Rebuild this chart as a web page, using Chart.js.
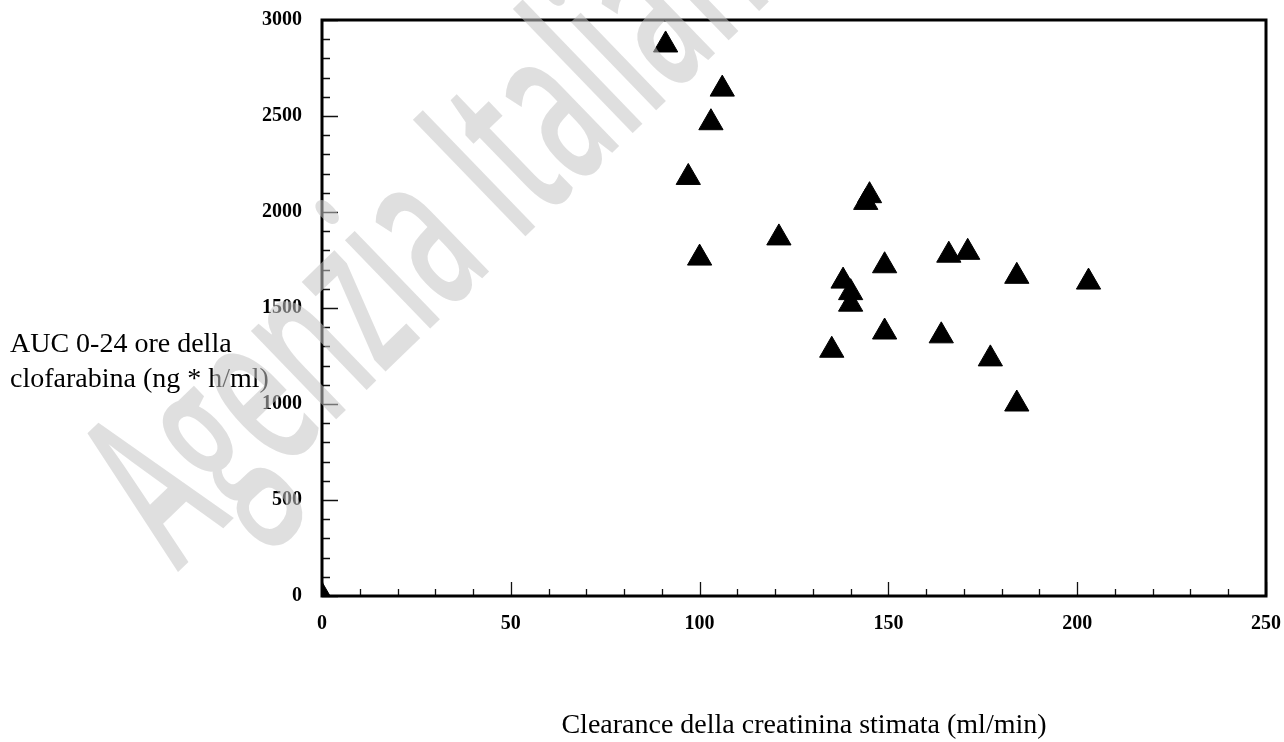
<!DOCTYPE html>
<html>
<head>
<meta charset="utf-8">
<script src="https://cdn.jsdelivr.net/npm/chart.js@4/dist/chart.umd.min.js"></script>
<style>
  html, body { margin: 0; padding: 0; background: #fff; }
</style>
</head>
<body>
<canvas id="auc" width="1284" height="742"></canvas>
<script>
// creatinine clearance (ml/min) vs AUC 0-24h (ng*h/ml)
var clearance = [0, 91, 106, 103, 97, 100, 145, 144, 121, 149, 166, 171, 184, 203, 138, 140, 140, 149, 164, 135, 177, 184];
var auc = [0, 2870, 2640, 2465, 2180, 1760, 2085, 2050, 1865, 1720, 1775, 1790, 1665, 1635, 1640, 1580, 1520, 1375, 1355, 1280, 1235, 1000];

var xTitle = 'Clearance della creatinina stimata (ml/min)';
var yTitle = ['AUC 0-24 ore della', 'clofarabina (ng * h/ml)'];
var watermark = 'Agenzia Italiana del Farmaco';

var points = clearance.map(function (c, i) { return { x: c, y: auc[i] }; });

var tickFont = { family: '"Liberation Serif", "Times New Roman", serif', size: 20, weight: 'bold' };

// inward ticks, frame, titles and the grey stamp across the page
var decor = {
  id: 'decor',
  beforeDatasetsDraw: function (chart) {
    var ctx = chart.ctx, a = chart.chartArea;
    var xs = chart.scales.x, ys = chart.scales.y;
    ctx.save();
    ctx.strokeStyle = '#111';
    ctx.lineWidth = 1.3;
    ctx.beginPath();
    for (var v = 0; v <= 250; v += 10) {
      var px = Math.round(xs.getPixelForValue(v)) + 0.5;
      var len = v % 50 === 0 ? 14 : 7;
      ctx.moveTo(px, a.bottom);
      ctx.lineTo(px, a.bottom - len);
    }
    for (var w = 0; w <= 3000; w += 100) {
      var py = Math.round(ys.getPixelForValue(w)) + 0.5;
      var l2 = w % 500 === 0 ? 16 : 8;
      ctx.moveTo(a.left, py);
      ctx.lineTo(a.left + l2, py);
    }
    ctx.stroke();
    ctx.lineWidth = 3;
    ctx.strokeStyle = '#000';
    ctx.strokeRect(a.left, a.top, a.right - a.left, a.bottom - a.top);
    ctx.restore();
  },
  afterDraw: function (chart) {
    var ctx = chart.ctx;
    ctx.save();
    ctx.fillStyle = '#000';
    ctx.font = '28px "Liberation Serif", "Times New Roman", serif';
    ctx.textBaseline = 'alphabetic';
    ctx.textAlign = 'left';
    ctx.fillText(yTitle[0], 10, 352);
    ctx.fillText(yTitle[1], 10, 387);
    ctx.textAlign = 'center';
    ctx.fillText(xTitle, 804, 733);
    ctx.restore();

    ctx.save();
    ctx.translate(178, 572);
    ctx.rotate(-44 * Math.PI / 180);
    ctx.font = '600 227px "Open Sans", sans-serif';
    var span = ctx.measureText('Agenzia ').width + ctx.measureText('I').width / 2;
    ctx.scale(490 / span, 1);
    ctx.fillStyle = 'rgba(196,196,196,0.55)';
    ctx.textAlign = 'left';
    ctx.fillText(watermark, 0, 0);
    ctx.restore();
  }
};

new Chart(document.getElementById('auc'), {
  type: 'scatter',
  data: {
    datasets: [{
      data: points,
      pointStyle: 'triangle',
      pointRadius: 14,
      pointBorderWidth: 1,
      backgroundColor: '#000',
      borderColor: '#000',
      clip: 0
    }]
  },
  options: {
    responsive: false,
    animation: false,
    layout: { autoPadding: false, padding: { left: 0, top: 20, right: 18, bottom: 96 } },
    plugins: { legend: { display: false }, tooltip: { enabled: false } },
    scales: {
      x: {
        type: 'linear', min: 0, max: 250,
        grid: { display: false },
        border: { display: false },
        ticks: { stepSize: 50, color: '#000', font: tickFont, padding: 8, maxRotation: 0,
          callback: function (v) { return String(v); } },
        afterFit: function (s) { s.height = 50; s.paddingLeft = 0; s.paddingRight = 0; }
      },
      y: {
        type: 'linear', min: 0, max: 3000,
        grid: { display: false },
        border: { display: false },
        ticks: { stepSize: 500, color: '#000', font: tickFont, padding: 12,
          callback: function (v) { return String(v); } },
        afterFit: function (s) { s.width = 322; s.paddingTop = 0; s.paddingBottom = 0; }
      }
    }
  },
  plugins: [decor]
});
</script>
</body>
</html>
